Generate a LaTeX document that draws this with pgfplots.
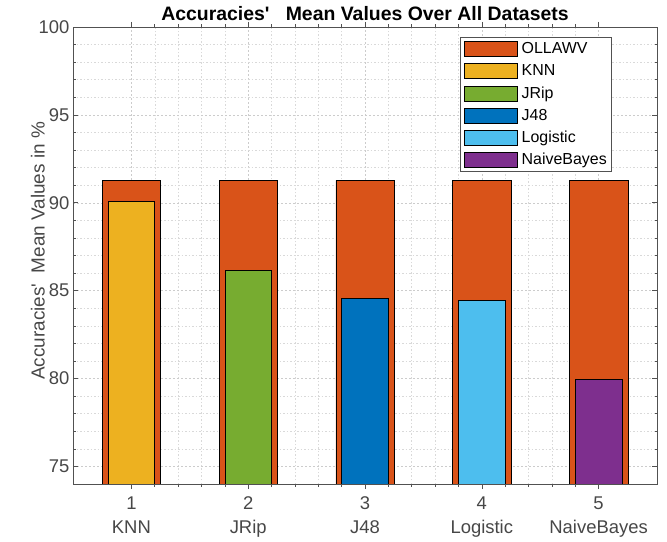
\documentclass[border=0pt]{standalone}
\usepackage{fontspec}
\setmainfont{Liberation Sans}[Ligatures=TeXOff]
\usepackage{pgfplots}
\pgfplotsset{compat=1.18}
\definecolor{cOL}{RGB}{217,83,25}
\definecolor{cKNN}{RGB}{237,177,32}
\definecolor{cJR}{RGB}{119,172,48}
\definecolor{cJ48}{RGB}{0,114,189}
\definecolor{cLog}{RGB}{77,190,238}
\definecolor{cNB}{RGB}{126,47,142}
\definecolor{axc}{RGB}{38,38,38}
\pgfplotsset{layers/mylayers/.define layer set={axis background,axis grid,pre main,main,axis ticks,axis lines,axis tick labels,axis descriptions,axis foreground}{}}
\begin{document}
\begin{tikzpicture}
\begin{axis}[
  set layers=mylayers,
  scale only axis, width=584bp, height=457bp,
  xmin=0.5, xmax=5.5, ymin=74, ymax=100,
  xtick={1,2,3,4,5},
  xticklabels={{1\\KNN},{2\\JRip},{3\\J48},{4\\Logistic},{5\\NaiveBayes}},
  xticklabel style={align=center, font=\fontsize{18.5}{24}\selectfont, text=axc!85, yshift=-4bp},
  ytick={75,80,85,90,95,100},
  yticklabel style={font=\fontsize{18.5}{22}\selectfont, text=axc!85},
  /pgf/number format/assume math mode=true,
  minor x tick num=4, minor y tick num=4,
  grid=both,
  major grid style={gray!40, dash pattern=on 2bp off 2bp, line width=0.5bp},
  minor grid style={gray!30, dash pattern=on 1.5bp off 2bp, line width=0.5bp},
  tick align=inside, major tick length=5bp, minor tick length=2.5bp,
  tick style={axc!80, line width=0.6bp},
  axis line style={axc!80, line width=0.7bp},
  title={Accuracies'\ \ \ Mean Values Over All Datasets},
  title style={font=\bfseries\fontsize{19.5}{22}\selectfont, yshift=-3bp},
  ylabel={Accuracies'\ \ Mean Values in \%},
  every axis y label/.style={at={([xshift=-28bp]rel axis cs:0,0.51)}, anchor=south, rotate=90, inner sep=0pt, font=\fontsize{19}{22}\selectfont, text=axc!85},
  ybar=0pt,
  legend style={at={(0.923,0.978)}, anchor=north east, draw=axc!80, line width=0.6bp, font=\fontsize{16}{19}\selectfont, row sep=6.5bp, column sep=3bp, inner xsep=4bp, inner ysep=4bp, nodes={inner sep=1bp}},
  legend cell align=left,
  legend image code/.code={\draw[#1] (0bp,-7.5bp) rectangle (53bp,7.5bp);},
]
\addplot[bar width=0.5, bar shift=0pt, fill=cOL, draw=black, line width=0.6bp] coordinates {(1,91.27) (2,91.27) (3,91.27) (4,91.27) (5,91.27)};
\addplot[bar width=0.4, bar shift=0pt, fill=cKNN, draw=black, line width=0.6bp] coordinates {(1,90.08)};
\addplot[bar width=0.4, bar shift=0pt, fill=cJR, draw=black, line width=0.6bp] coordinates {(2,86.17)};
\addplot[bar width=0.4, bar shift=0pt, fill=cJ48, draw=black, line width=0.6bp] coordinates {(3,84.58)};
\addplot[bar width=0.4, bar shift=0pt, fill=cLog, draw=black, line width=0.6bp] coordinates {(4,84.47)};
\addplot[bar width=0.4, bar shift=0pt, fill=cNB, draw=black, line width=0.6bp] coordinates {(5,79.95)};
\legend{OLLAWV,KNN,JRip,J48,Logistic,NaiveBayes}
\end{axis}
\pgfresetboundingbox
\useasboundingbox ([xshift=-73bp,yshift=-58bp]current axis.south west) rectangle ([xshift=10bp,yshift=27bp]current axis.north east);
\end{tikzpicture}
\end{document}
